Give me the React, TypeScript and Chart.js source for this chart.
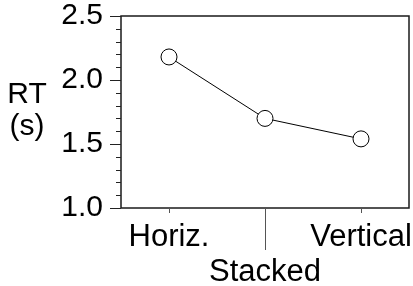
import React, { useEffect, useRef } from "react";
import { Chart, registerables } from "chart.js";

Chart.register(...registerables);

const categories = ["Horiz.", "Stacked", "Vertical"];
const rtValues = [2.18, 1.7, 1.54];
const yMin = 1.0;
const yMax = 2.5;
const yMajorStep = 0.5;
const yMinorStep = 0.1;
const yTitleLines = ["RT", "(s)"];

const FONT = "'Liberation Sans', Arial, Helvetica, sans-serif";

export default function App() {
  const ref = useRef<HTMLCanvasElement>(null);

  useEffect(() => {
    if (!ref.current) return;

    const framePlugin = {
      id: "frame",
      afterDraw(chart: any) {
        const { ctx, chartArea: a, scales } = chart;
        const y = scales.y;
        const x = scales.x;
        ctx.save();
        ctx.strokeStyle = "#1a1a1a";
        ctx.lineWidth = 1.5;
        ctx.strokeRect(a.left, a.top, a.right - a.left, a.bottom - a.top);
        ctx.lineWidth = 1;
        ctx.strokeStyle = "#222";
        const n = Math.round((yMax - yMin) / yMinorStep);
        const perMajor = Math.round(yMajorStep / yMinorStep);
        for (let i = 0; i <= n; i++) {
          const v = yMin + i * yMinorStep;
          const p = Math.round(y.getPixelForValue(v)) + 0.5;
          const major = i % perMajor === 0;
          ctx.beginPath();
          ctx.moveTo(a.left - (major ? 11 : 5), p);
          ctx.lineTo(a.left, p);
          ctx.stroke();
        }
        ctx.strokeStyle = "#555";
        categories.forEach((_c, i) => {
          const px = Math.round(x.getPixelForValue(i)) + 0.5;
          const len = i % 2 === 1 ? 42 : 5;
          ctx.beginPath();
          ctx.moveTo(px, a.bottom);
          ctx.lineTo(px, a.bottom + len);
          ctx.stroke();
        });
        ctx.fillStyle = "#000";
        ctx.font = `30px ${FONT}`;
        ctx.textAlign = "center";
        ctx.textBaseline = "middle";
        yTitleLines.forEach((t, i) => ctx.fillText(t, 27, 95 + i * 32));
        ctx.restore();
      },
    };

    const chart = new Chart(ref.current, {
      type: "line",
      data: {
        labels: categories,
        datasets: [
          {
            data: rtValues,
            borderColor: "#000",
            borderWidth: 1,
            pointRadius: 8,
            pointBackgroundColor: "#fff",
            pointBorderColor: "#000",
            pointBorderWidth: 1,
            tension: 0,
            clip: false,
          },
        ],
      },
      options: {
        responsive: false,
        animation: false,
        events: [],
        layout: { autoPadding: false, padding: { top: 16, right: 4, left: 0, bottom: 0 } },
        plugins: { legend: { display: false }, tooltip: { enabled: false } },
        scales: {
          x: {
            type: "category",
            offset: true,
            grid: { display: false, drawTicks: false },
            border: { display: false },
            ticks: {
              color: "#000",
              font: { family: FONT, size: 31, lineHeight: 35 / 31 },
              padding: 12,
              maxRotation: 0,
              autoSkip: false,
              callback: function (this: any, value: any, index: number) {
                const lbl = this.getLabelForValue(value);
                return index % 2 === 1 ? ["", lbl] : lbl;
              },
            },
            afterFit(scale: any) {
              scale.height = 78;
              scale.paddingLeft = 0;
              scale.paddingRight = 0;
            },
          },
          y: {
            min: yMin,
            max: yMax,
            grid: { display: false, drawTicks: false },
            border: { display: false },
            ticks: {
              stepSize: yMajorStep,
              color: "#000",
              font: { family: FONT, size: 30, lineHeight: 1 },
              padding: 18,
              callback: (v: any) => Number(v).toFixed(1),
            },
            afterFit(scale: any) {
              scale.width = 121;
              scale.paddingTop = 0;
              scale.paddingBottom = 0;
            },
          },
        },
      },
      plugins: [framePlugin],
    } as any);

    return () => chart.destroy();
  }, []);

  return (
    <div style={{ position: "fixed", left: 0, top: 0, width: 413, height: 286, background: "#fff" }}>
      <canvas ref={ref} width={413} height={286} style={{ display: "block" }} />
    </div>
  );
}
